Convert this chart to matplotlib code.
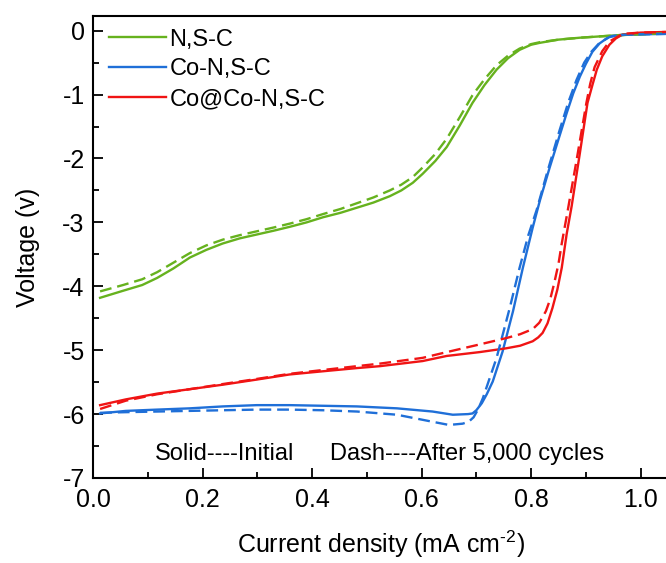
import matplotlib
matplotlib.use("Agg")
import matplotlib.pyplot as plt
from matplotlib.ticker import MultipleLocator

plt.rcParams['font.family'] = ['Liberation Sans', 'DejaVu Sans']
plt.rcParams['mathtext.fontset'] = 'custom'
plt.rcParams['mathtext.rm'] = 'Liberation Sans'

# N,S-C
nsc_x = [0.013, 0.055, 0.09, 0.117, 0.147, 0.177, 0.207, 0.237, 0.268, 0.299, 0.33, 0.359, 0.39,
         0.42, 0.452, 0.482, 0.512, 0.542, 0.563, 0.584, 0.602, 0.625, 0.646, 0.67, 0.693, 0.715,
         0.737, 0.758, 0.779, 0.80, 0.816, 0.85, 0.889, 0.96, 1.046]
nsc_solid = [-4.18, -4.07, -3.98, -3.87, -3.72, -3.55, -3.43, -3.33, -3.25, -3.19, -3.13, -3.07,
             -3.00, -2.92, -2.85, -2.77, -2.69, -2.59, -2.50, -2.38, -2.24, -2.04, -1.82, -1.48,
             -1.13, -0.85, -0.61, -0.43, -0.30, -0.22, -0.19, -0.14, -0.11, -0.07, -0.04]
nsc_dash = [-4.08, -3.98, -3.89, -3.78, -3.63, -3.48, -3.36, -3.27, -3.20, -3.14, -3.08, -3.02,
            -2.95, -2.87, -2.79, -2.70, -2.61, -2.50, -2.41, -2.29, -2.14, -1.93, -1.69, -1.35,
            -1.01, -0.76, -0.54, -0.39, -0.28, -0.21, -0.18, -0.14, -0.11, -0.07, -0.04]

# Co-N,S-C
con_x_s = [0.013, 0.06, 0.117, 0.177, 0.237, 0.299, 0.359, 0.42, 0.482, 0.555, 0.62, 0.657, 0.685,
           0.693, 0.70, 0.71, 0.719, 0.73, 0.748, 0.767, 0.785, 0.803, 0.816, 0.834, 0.85, 0.865,
           0.877, 0.889, 0.90, 0.912, 0.925, 0.943, 0.96, 0.98, 1.046]
con_s = [-5.99, -5.95, -5.93, -5.91, -5.88, -5.86, -5.86, -5.87, -5.88, -5.91, -5.96, -6.01, -6.00,
         -5.99, -5.94, -5.83, -5.69, -5.49, -5.02, -4.39, -3.71, -3.08, -2.66, -2.14, -1.70, -1.29,
         -0.98, -0.72, -0.52, -0.33, -0.20, -0.09, -0.07, -0.06, -0.05]
con_x_d = [0.013, 0.06, 0.117, 0.177, 0.237, 0.299, 0.359, 0.42, 0.482, 0.555, 0.62, 0.65, 0.675,
           0.686, 0.695, 0.703, 0.712, 0.737, 0.761, 0.779, 0.795, 0.81, 0.83, 0.852, 0.868, 0.883,
           0.897, 0.91, 0.925, 0.943, 0.96, 0.98, 1.046]
con_d = [-5.98, -5.97, -5.96, -5.95, -5.94, -5.93, -5.93, -5.94, -5.96, -6.01, -6.12, -6.17, -6.15,
         -6.12, -6.05, -5.93, -5.75, -5.12, -4.34, -3.71, -3.20, -2.81, -2.20, -1.56, -1.12, -0.77,
         -0.50, -0.33, -0.19, -0.10, -0.07, -0.06, -0.05]

# Co@Co-N,S-C
coc_x_s = [0.013, 0.06, 0.117, 0.177, 0.237, 0.299, 0.359, 0.42, 0.482, 0.524, 0.602, 0.646, 0.706,
           0.755, 0.78, 0.803, 0.813, 0.821, 0.83, 0.839, 0.848, 0.856, 0.865, 0.874, 0.889, 0.903,
           0.912, 0.920, 0.93, 0.943, 0.955, 0.967, 1.0, 1.046]
coc_s = [-5.86, -5.77, -5.68, -5.61, -5.54, -5.46, -5.38, -5.33, -5.28, -5.25, -5.17, -5.09, -5.03,
         -4.97, -4.93, -4.86, -4.80, -4.73, -4.58, -4.34, -4.05, -3.71, -3.18, -2.75, -1.92, -1.13,
         -0.85, -0.61, -0.40, -0.22, -0.12, -0.06, -0.03, -0.02]
coc_x_d = [0.013, 0.06, 0.117, 0.177, 0.237, 0.299, 0.359, 0.42, 0.482, 0.524, 0.602, 0.646, 0.706,
           0.755, 0.78, 0.803, 0.815, 0.827, 0.835, 0.842, 0.85, 0.856, 0.867, 0.883, 0.901, 0.908,
           0.916, 0.93, 0.943, 0.967, 1.0, 1.046]
coc_d = [-5.92, -5.79, -5.69, -5.61, -5.53, -5.45, -5.37, -5.31, -5.25, -5.21, -5.12, -5.03, -4.91,
         -4.81, -4.75, -4.67, -4.57, -4.39, -4.20, -3.96, -3.65, -3.33, -2.81, -2.03, -1.13, -0.83,
         -0.57, -0.32, -0.17, -0.05, -0.03, -0.02]

labels = ['N,S-C', 'Co-N,S-C', 'Co@Co-N,S-C']
colors = ['#66b21e', '#1f6fd8', '#f01414']

fig = plt.figure(figsize=(6.66, 5.63), dpi=100)
ax = fig.add_axes([0.1396, 0.151, 0.8634, 0.8206])

lw = 1.7
dash = (0, (5, 2.5))
ax.plot(nsc_x, nsc_solid, color=colors[0], lw=lw, label=labels[0])
ax.plot(con_x_s, con_s, color=colors[1], lw=lw, label=labels[1])
ax.plot(coc_x_s, coc_s, color=colors[2], lw=lw, label=labels[2])
ax.plot(nsc_x, nsc_dash, color=colors[0], lw=lw, ls=dash)
ax.plot(con_x_d, con_d, color=colors[1], lw=lw, ls=dash)
ax.plot(coc_x_d, coc_d, color=colors[2], lw=lw, ls=dash)

ax.set_xlim(0, 1.05)
ax.set_ylim(-7, 0.23)
ax.xaxis.set_minor_locator(MultipleLocator(0.1))
ax.yaxis.set_minor_locator(MultipleLocator(0.5))
ax.set_xticks([0.0, 0.2, 0.4, 0.6, 0.8, 1.0])
ax.set_xticklabels(['0.0', '0.2', '0.4', '0.6', '0.8', '1.0'])
ax.set_yticks([0, -1, -2, -3, -4, -5, -6, -7])
ax.set_yticklabels(['0', '-1', '-2', '-3', '-4', '-5', '-6', '-7'])
ax.tick_params(which='major', direction='in', length=7, width=1.3, labelsize=18, pad=7)
ax.tick_params(which='minor', direction='in', length=4, width=1.3)
ax.tick_params(axis='y', which='major', pad=6)
for s in ['left', 'bottom', 'top']:
    ax.spines[s].set_linewidth(1.5)
ax.spines['right'].set_visible(False)

ax.set_xlabel('Current density (mA cm$^{\\text{-2}}$)', fontsize=18, labelpad=12)
ax.set_ylabel('Voltage (v)', fontsize=18, labelpad=16)

leg = ax.legend(loc='upper left', frameon=False, fontsize=17, handlelength=2.4,
                handletextpad=0.15, labelspacing=0.33, borderaxespad=0.0,
                bbox_to_anchor=(0.012, 0.993))

ax.text(0.113, -6.62, 'Solid----Initial', fontsize=17, va='center', ha='left')
ax.text(0.432, -6.62, 'Dash----After 5,000 cycles', fontsize=17, va='center', ha='left')

fig.savefig('out.png', dpi=100)
